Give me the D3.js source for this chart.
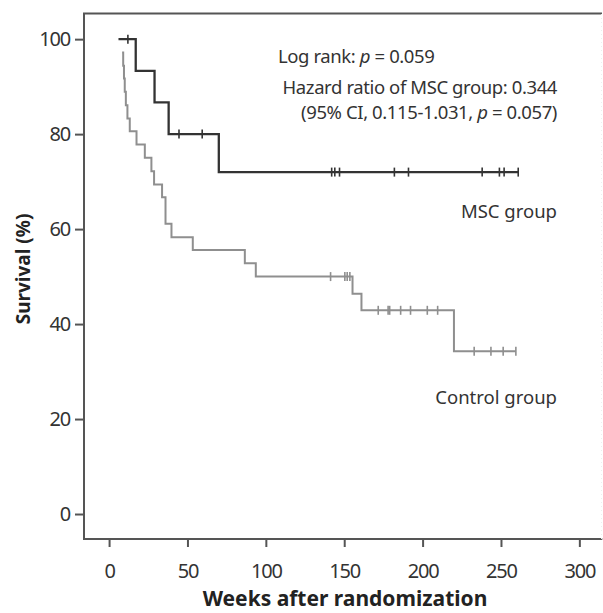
<!DOCTYPE html>
<html><head><meta charset="utf-8">
<script src="https://cdn.jsdelivr.net/npm/d3@7"></script>
<style>body{margin:0;background:#fff}svg{display:block}</style>
</head><body>
<script>
// ---- data ----
const xTicks = [0, 50, 100, 150, 200, 250, 300];
const yTicks = [0, 20, 40, 60, 80, 100];
// MSC group: step points [week, survival %]
const mscSteps = [[6, 100], [17, 93.3], [29, 86.7], [38, 80], [70, 72], [261, 72]];
const mscCensors = [[12, 100], [44.6, 80], [59.4, 80], [142, 72], [144, 72], [147, 72], [182, 72], [191, 72], [238, 72], [249, 72], [252, 72], [261, 72]];
// Control group
const ctlSteps = [[8.3, 97.2], [9, 94.4], [9.5, 91.7], [10, 88.9], [10.7, 86.1], [11.7, 83.3], [13.2, 80.6],
  [17.5, 77.8], [22.8, 75.0], [27, 72.2], [28.7, 69.4], [33.8, 66.7], [36, 61.1], [39.8, 58.3],
  [53.4, 55.6], [86.6, 52.8], [93.6, 50.0], [155.3, 46.4], [161, 42.9], [220, 34.3], [259.5, 34.3]];
const ctlCensors = [[141.3, 50], [150.4, 50], [151.9, 50], [153.6, 50], [171.7, 42.9], [178, 42.9], [179, 42.9],
  [186, 42.9], [192.3, 42.9], [203, 42.9], [209.6, 42.9], [232.9, 34.3], [243.6, 34.3], [251.4, 34.3], [259.5, 34.3]];
const annotations = ["Log rank: ", "Hazard ratio of MSC group: 0.344", "(95% CI, 0.115-1.031, "];
const groupLabels = ["MSC group", "Control group"];
const xTitle = "Weeks after randomization";
const yTitle = "Survival (%)";

// ---- drawing ----
const W = 603, H = 613;
const svg = d3.select("body").append("svg").attr("width", W).attr("height", H);
const font = "'Noto Sans', 'Open Sans', sans-serif";
const x = d3.scaleLinear().domain([-16, 314]).range([84, 601.3]);
const y = d3.scaleLinear().domain([-5.26, 105.4]).range([539, 13.5]);

const axisCol = "#555";
// frame
svg.append("path")
  .attr("d", `M${x.range()[1]+0.7},${y(105.4)}H84V539H${x.range()[1]+1}`)
  .attr("fill", "none").attr("stroke", axisCol).attr("stroke-width", 2);
svg.append("line").attr("x1", 601.5).attr("x2", 601.5).attr("y1", 14).attr("y2", 539)
  .attr("stroke", "#eee").attr("stroke-width", 1).attr("stroke-dasharray", "1,3");

const gx = svg.append("g").attr("transform", "translate(0,539)")
  .call(d3.axisBottom(x).tickValues(xTicks).tickSize(8).tickPadding(17).tickFormat(d3.format("d")));
gx.select(".domain").remove();
gx.selectAll("line").attr("stroke", axisCol).attr("stroke-width", 2);
gx.selectAll("text").attr("font-family", font).attr("font-size", 20).attr("fill", "#333")
  .attr("letter-spacing", "-1.2px");

const gy = svg.append("g").attr("transform", "translate(84,0)")
  .call(d3.axisLeft(y).tickValues(yTicks).tickSize(9).tickPadding(5).tickFormat(d3.format("d")));
gy.select(".domain").remove();
gy.selectAll("line").attr("stroke", axisCol).attr("stroke-width", 2);
gy.selectAll("text").attr("font-family", font).attr("font-size", 20).attr("fill", "#333")
  .attr("letter-spacing", "-1.2px");

// titles
svg.append("text").attr("x", 345).attr("y", 606).attr("text-anchor", "middle")
  .attr("font-family", font).attr("font-weight", "bold").attr("font-size", 21).attr("fill", "#222").text(xTitle);
svg.append("text").attr("transform", "translate(30,269) rotate(-90)").attr("text-anchor", "middle")
  .attr("font-family", font).attr("font-weight", "bold").attr("font-size", 19).attr("fill", "#222").text(yTitle);

// curves
const line = d3.line().x(d => x(d[0])).y(d => y(d[1])).curve(d3.curveStepAfter);
function drawGroup(steps, censors, col, sw) {
  svg.append("path").datum(steps).attr("d", line).attr("fill", "none")
    .attr("stroke", col).attr("stroke-width", sw);
  svg.append("g").selectAll("line").data(censors).join("line")
    .attr("x1", d => x(d[0])).attr("x2", d => x(d[0]))
    .attr("y1", d => y(d[1]) - 4.5).attr("y2", d => y(d[1]) + 4.5)
    .attr("stroke", col).attr("stroke-width", 1.6);
}
drawGroup(ctlSteps, ctlCensors, "#8f8f8f", 2);
drawGroup(mscSteps, mscCensors, "#333", 2.3);

// annotations
const tcol = "#333";
const fs = 18.5;
const t1 = svg.append("text").attr("x", 278).attr("y", 63).attr("font-family", font).attr("font-size", fs).attr("fill", tcol).attr("letter-spacing", "-0.4px");
t1.append("tspan").text(annotations[0]);
t1.append("tspan").attr("font-style", "italic").text("p");
t1.append("tspan").text(" = 0.059");
svg.append("text").attr("x", 557).attr("y", 94).attr("text-anchor", "end").attr("font-family", font)
  .attr("font-size", fs).attr("fill", tcol).attr("letter-spacing", "-0.4px").text(annotations[1]);
const t3 = svg.append("text").attr("x", 557).attr("y", 119).attr("text-anchor", "end").attr("font-family", font).attr("font-size", fs).attr("fill", tcol).attr("letter-spacing", "-0.4px");
t3.append("tspan").text(annotations[2]);
t3.append("tspan").attr("font-style", "italic").text("p");
t3.append("tspan").text(" = 0.057)");

svg.append("text").attr("x", 557).attr("y", 218).attr("text-anchor", "end").attr("font-family", font)
  .attr("font-size", 18.5).attr("fill", tcol).text(groupLabels[0]);
svg.append("text").attr("x", 557).attr("y", 404).attr("text-anchor", "end").attr("font-family", font)
  .attr("font-size", 18.5).attr("fill", tcol).text(groupLabels[1]);
</script>
</body></html>
